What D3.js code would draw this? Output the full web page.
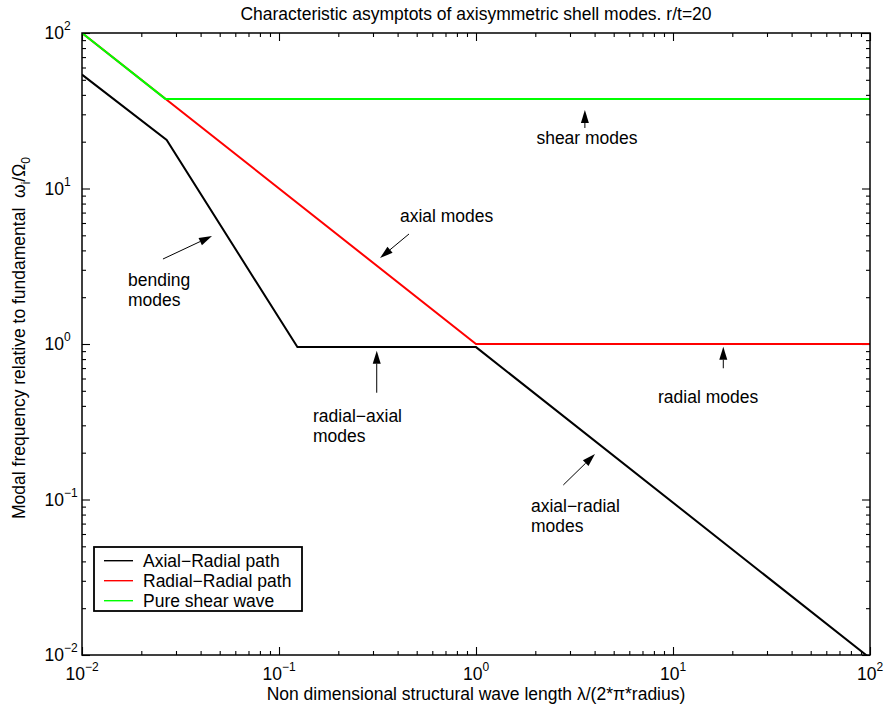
<!DOCTYPE html>
<html>
<head>
<meta charset="utf-8">
<script src="https://cdn.jsdelivr.net/npm/d3@7/dist/d3.min.js"></script>
<style>
  html, body { margin: 0; padding: 0; background: #fff; }
  svg { display: block; }
  text { font-family: "Liberation Sans", Arial, Helvetica, sans-serif; fill: #000; }
</style>
</head>
<body>
<svg id="chart" width="885" height="712"></svg>
<script>
// Asymptotic branches (x = wavelength / circumference, y = ω/Ω0)
const axialRadialX = [0.01, 0.0269, 0.124, 1, 100];
const axialRadialY = [54, 20.5, 0.955, 0.955, 0.00955];
const radialRadialX = [0.01, 1, 100];
const radialRadialY = [100, 1, 1];
const shearX = [0.01, 0.0265, 100];
const shearY = [100, 37.7, 37.7];

const seriesNames = ["Axial\u2212Radial path", "Radial\u2212Radial path", "Pure shear wave"];
const seriesColors = ["#000000", "#ff0000", "#00ff00"];

// Axis decades
const xMajorTicks = [0.01, 0.1, 1, 10, 100];
const yMajorTicks = [0.01, 0.1, 1, 10, 100];
const tickExponents = ["\u22122", "\u22121", "0", "1", "2"];

// Annotation labels: text lines and anchor point (data units)
const labelLines = [["shear modes"], ["axial modes"], ["bending", "modes"],
                    ["radial\u2212axial", "modes"], ["radial modes"], ["axial\u2212radial", "modes"]];
const labelX = [3.66, 0.411, 0.01713, 0.1488, 8.39, 1.90];
const labelY = [19.3, 6.09, 2.36, 0.315, 0.4174, 0.0831];
const labelAnchor = ["middle", "start", "start", "start", "start", "start"];

// Annotation arrows: tail -> tip (data units)
const arrowTailX = [3.57, 0.457, 0.02576, 0.3134, 18.0, 2.775];
const arrowTailY = [24.5, 5.10, 3.52, 0.486, 0.698, 0.124];
const arrowTipX  = [3.57, 0.3257, 0.0457, 0.3134, 18.0, 4.018];
const arrowTipY  = [32.0, 3.57, 4.95, 0.906, 0.961, 0.196];

const titleText = "Characteristic asymptots of axisymmetric shell modes. r/t=20";
const xLabelText = "Non dimensional structural wave length \u03bb/(2*\u03c0*radius)";

// ---- layout ----
const svg = d3.select("#chart");
const pLeft = 82, pRight = 870, pTop = 33, pBottom = 655;
const FS = 17.5;

const x = d3.scaleLog().domain([0.01, 100]).range([pLeft, pRight]);
const y = d3.scaleLog().domain([0.01, 100]).range([pBottom, pTop]);

function minorTicks(majors) {
  const out = [];
  for (let i = 0; i < majors.length - 1; i++)
    for (let k = 2; k <= 9; k++) out.push(majors[i] * k);
  return out;
}
const xMinor = minorTicks(xMajorTicks);
const yMinor = minorTicks(yMajorTicks);

svg.append("defs").append("clipPath").attr("id", "plotClip")
  .append("rect").attr("x", pLeft).attr("y", pTop)
  .attr("width", pRight - pLeft).attr("height", pBottom - pTop);

// ---- ticks on all four sides, pointing inward ----
function drawTicks(axisGen, scale, values, size, tx, ty) {
  const g = svg.append("g").attr("transform", `translate(${tx},${ty})`)
    .call(axisGen(scale).tickValues(values).tickSize(-size).tickFormat(""));
  g.select(".domain").remove();
  g.selectAll(".tick line").attr("stroke", "#000").attr("stroke-width", 1.1);
}
drawTicks(d3.axisBottom, x, xMajorTicks, 8, 0, pBottom);
drawTicks(d3.axisBottom, x, xMinor, 4, 0, pBottom);
drawTicks(d3.axisTop, x, xMajorTicks, 8, 0, pTop);
drawTicks(d3.axisTop, x, xMinor, 4, 0, pTop);
drawTicks(d3.axisLeft, y, yMajorTicks, 8, pLeft, 0);
drawTicks(d3.axisLeft, y, yMinor, 4, pLeft, 0);
drawTicks(d3.axisRight, y, yMajorTicks, 8, pRight, 0);
drawTicks(d3.axisRight, y, yMinor, 4, pRight, 0);

// ---- tick labels 10^n ----
xMajorTicks.forEach((v, i) => {
  const t = svg.append("text").attr("x", x(v)).attr("y", 680)
    .attr("text-anchor", "middle").attr("font-size", FS);
  t.append("tspan").text("10");
  t.append("tspan").attr("dy", -9).attr("font-size", 12).text(tickExponents[i]);
});
yMajorTicks.forEach((v, i) => {
  const t = svg.append("text").attr("x", 44.5).attr("y", y(v) + 6.3)
    .attr("text-anchor", "start").attr("font-size", FS);
  t.append("tspan").text("10");
  t.append("tspan").attr("dy", -9).attr("font-size", 12).text(tickExponents[i]);
});

// ---- data lines ----
const line = d3.line().x(d => x(d[0])).y(d => y(d[1]));
const series = [
  d3.zip(axialRadialX, axialRadialY),
  d3.zip(radialRadialX, radialRadialY),
  d3.zip(shearX, shearY)
];
const plot = svg.append("g").attr("clip-path", "url(#plotClip)");
series.forEach((pts, i) => {
  plot.append("path").attr("d", line(pts))
    .attr("fill", "none").attr("stroke", seriesColors[i])
    .attr("stroke-width", 2).attr("stroke-linejoin", "miter");
});

// ---- plot frame ----
svg.append("rect").attr("x", pLeft).attr("y", pTop)
  .attr("width", pRight - pLeft).attr("height", pBottom - pTop)
  .attr("fill", "none").attr("stroke", "#000").attr("stroke-width", 1.5);

// ---- annotation arrows ----
const headLen = 13, headHalf = 4;
arrowTailX.forEach((_, i) => {
  const x0 = x(arrowTailX[i]), y0 = y(arrowTailY[i]);
  const x1 = x(arrowTipX[i]), y1 = y(arrowTipY[i]);
  const dx = x1 - x0, dy = y1 - y0, L = Math.hypot(dx, dy);
  const ux = dx / L, uy = dy / L;
  const bx = x1 - ux * headLen, by = y1 - uy * headLen;
  svg.append("line").attr("x1", x0).attr("y1", y0).attr("x2", bx).attr("y2", by)
    .attr("stroke", "#000").attr("stroke-width", 1);
  svg.append("path")
    .attr("d", `M${x1},${y1}L${bx - uy * headHalf},${by + ux * headHalf}L${bx + uy * headHalf},${by - ux * headHalf}Z`)
    .attr("fill", "#000");
});

// ---- annotation text ----
labelLines.forEach((lines, i) => {
  const t = svg.append("text").attr("font-size", FS).attr("text-anchor", labelAnchor[i]);
  lines.forEach((s, j) => {
    t.append("tspan").attr("x", x(labelX[i])).attr("y", y(labelY[i]) + j * 20).text(s);
  });
});

// ---- title and axis labels ----
svg.append("text").attr("x", (pLeft + pRight) / 2).attr("y", 19.5)
  .attr("text-anchor", "middle").attr("font-size", FS).text(titleText);

svg.append("text").attr("x", (pLeft + pRight) / 2).attr("y", 700)
  .attr("text-anchor", "middle").attr("font-size", FS).text(xLabelText);

const yl = svg.append("text")
  .attr("transform", `translate(25,338) rotate(-90)`)
  .attr("text-anchor", "middle").attr("font-size", FS)
  .style("white-space", "pre");
yl.append("tspan").text("Modal frequency relative to fundamental  \u03c9");
yl.append("tspan").attr("dy", 5).attr("font-size", 12).text("i");
yl.append("tspan").attr("dy", -5).text("/\u03a9");
yl.append("tspan").attr("dy", 5).attr("font-size", 12).text("0");

// ---- legend ----
const lg = svg.append("g");
lg.append("rect").attr("x", 94).attr("y", 547).attr("width", 208).attr("height", 64)
  .attr("fill", "#fff").attr("stroke", "#000").attr("stroke-width", 1.8);
seriesNames.forEach((name, i) => {
  const cy = 560.7 + i * 20;
  lg.append("line").attr("x1", 104).attr("x2", 133).attr("y1", cy).attr("y2", cy)
    .attr("stroke", seriesColors[i]).attr("stroke-width", 1.4);
  lg.append("text").attr("x", 143).attr("y", cy + 6.3).attr("font-size", FS).text(name);
});
</script>
</body>
</html>
